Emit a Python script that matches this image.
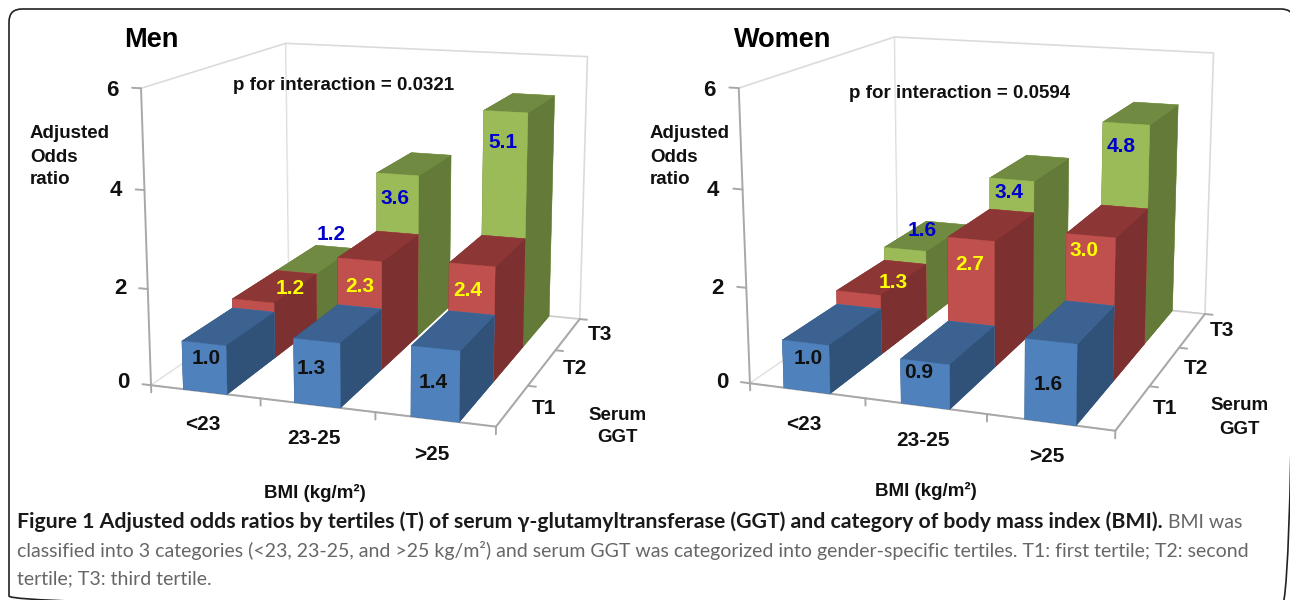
import numpy as np, pandas as pd, seaborn as sns, matplotlib
matplotlib.use("Agg")
import matplotlib.pyplot as plt
from matplotlib.patches import FancyBboxPatch
from matplotlib.transforms import Affine2D

FIG_W, FIG_H = 1290, 600
sns.set_theme(style="white")
plt.rcParams["font.family"] = ["Liberation Sans", "DejaVu Sans"]

# ---------- data ----------
bmi_labels = ["<23", "23-25", ">25"]
ggt_labels = ["T1", "T2", "T3"]
z_ticks = [0, 2, 4, 6]
men_t1 = [1.0, 1.3, 1.4]
men_t2 = [1.2, 2.3, 2.4]
men_t3 = [1.2, 3.6, 5.1]
women_t1 = [1.0, 0.9, 1.6]
women_t2 = [1.3, 2.7, 3.0]
women_t3 = [1.6, 3.4, 4.8]

# ---------- styles ----------
palette = sns.color_palette(["#4F81BD", "#C0504D", "#9BBB59"])
top_colors = ["#3B6290", "#8C3635", "#718A41"]
side_colors = ["#305279", "#7C3030", "#647A38"]
label_colors = ["#111111", "#FFFF00", "#0000CC"]
LINE = "#A8A8A8"
BAR_W = 0.40

# ---------- layout (pixels) ----------
px = Affine2D().scale(1 / FIG_W, -1 / FIG_H).translate(0, 1)
panels = [
    dict(title="Men", title_xy=(151, 40), series=[men_t1, men_t2, men_t3],
         view=(13.118, -70.901, 0.548, 1.19, 1.218), rect=(97.6, 105.0, 548.2),
         p_text="p for interaction = 0.0321", p_xy=(344, 86),
         ylab_x=30, serum_xy=(618, 415), bmi_xy=(315, 493),
         x_xy=[(203, 424), (314, 439), (432, 454)],
         y_xy=[(544, 408), (575, 369), (600, 334)],
         z_xy=[(123, 383), (120, 288), (116, 191), (112, 91)],
         value_xy=[[(206, 359), (311, 368), (433, 383)],
                   [(290, 289), (360, 286), (468, 290)],
                   [(331, 234), (395, 199), (503, 143)]]),
    dict(title="Women", title_xy=(783, 40), series=[women_t1, women_t2, women_t3],
         view=(13.914, -70.262, 0.529, 1.267, 1.271), rect=(699.8, 97.0, 569.0),
         p_text="p for interaction = 0.0594", p_xy=(960, 94),
         ylab_x=650, serum_xy=(1240, 406), bmi_xy=(926, 491),
         x_xy=[(804, 424), (923, 441), (1047, 457)],
         y_xy=[(1165, 409), (1196, 368), (1222, 331)],
         z_xy=[(722, 383), (717, 288), (713, 190), (709, 90)],
         value_xy=[[(808, 359), (919, 372), (1048, 385)],
                   [(893, 282), (970, 264), (1084, 251)],
                   [(922, 231), (1009, 193), (1121, 147)]]),
]

fig = plt.figure(figsize=(FIG_W / 100, FIG_H / 100), dpi=100, facecolor="white")
to_fig = px + fig.transFigure


def ftext(x, y, s, **kw):
    kw.setdefault("ha", "center")
    kw.setdefault("va", "center")
    return fig.text(x, y, s, transform=to_fig, **kw)


fig.add_artist(FancyBboxPatch((9, 9), 1285, 600, boxstyle="round,pad=0,rounding_size=13",
                              transform=to_fig, facecolor="none", edgecolor="#222222",
                              linewidth=1.2, zorder=-5))

for panel in panels:
    l, b, w = panel["rect"]
    ax = fig.add_axes([l / FIG_W, b / FIG_H, w / FIG_W, w / FIG_H],
                      projection="3d", computed_zorder=False)
    ax.patch.set_alpha(0)
    el, az, f, bx, by = panel["view"]
    ax.view_init(elev=el, azim=az)
    ax.set_proj_type("persp", focal_length=f)
    ax.set_box_aspect((bx, by, 1))
    ax.set_xlim(0, 3, view_margin=0)
    ax.set_ylim(0, 3, view_margin=0)
    ax.set_zlim(0, 6, view_margin=0)
    ax.grid(False)
    for axis in (ax.xaxis, ax.yaxis, ax.zaxis):
        axis.pane.set_facecolor("white")
        axis.pane.set_edgecolor("#B8B8B8")
        axis.pane.set_linewidth(1.2)
        axis.line.set_color(LINE)
        axis.line.set_linewidth(1.4)
        axis._axinfo["tick"]["inward_factor"] = 0
        axis._axinfo["tick"]["outward_factor"] = 0
    ax.set_xticks([0.5, 1.5, 2.5], ["", "", ""])
    ax.set_yticks([0.5, 1.5, 2.5], ["", "", ""])
    ax.set_zticks(z_ticks, [""] * len(z_ticks))
    ax.zaxis.set_ticks_position("lower")

    # boundary tick marks, as in the source chart
    for xt in (0, 1, 2, 3):
        ax.plot([xt, xt], [0, 0], [0, -0.15], color=LINE, lw=1.4)
    for yt in (1, 2, 3):
        ax.plot([3, 3.07], [yt, yt], [0, 0], color=LINE, lw=1.4)
    for zt in z_ticks:
        ax.plot([0, -0.08], [0, 0], [zt, zt], color=LINE, lw=1.4)

    # back rows first, left bars first: painter's order for this camera
    for row in (2, 1, 0):
        for col, val in enumerate(panel["series"][row]):
            face = matplotlib.colors.to_hex(palette[row])
            colours = [top_colors[row], top_colors[row], face, face,
                       side_colors[row], side_colors[row]]
            ax.bar3d(col + 0.5 - BAR_W / 2, row, 0, BAR_W, 1, val, color=colours,
                     shade=False, edgecolor=colours, linewidth=0.3)

    for s, (tx, ty) in zip(bmi_labels, panel["x_xy"]):
        ftext(tx, ty, s, fontsize=15, fontweight="bold", color="#111111")
    for s, (tx, ty) in zip(ggt_labels, panel["y_xy"]):
        ftext(tx, ty, s, fontsize=15, fontweight="bold", color="#111111")
    for t, (tx, ty) in zip(z_ticks, panel["z_xy"]):
        ftext(tx, ty, str(t), fontsize=16, fontweight="bold", color="#111111")

    ftext(*panel["title_xy"], panel["title"], fontsize=19.5, fontweight="bold", color="black")
    ftext(*panel["p_xy"], panel["p_text"], fontsize=13.5, fontweight="bold", color="#111111")
    for dy, word in zip((134, 157, 180), ("Adjusted", "Odds", "ratio")):
        ftext(panel["ylab_x"], dy, word, ha="left", fontsize=13.5, fontweight="bold", color="#111111")
    sx, sy = panel["serum_xy"]
    ftext(sx, sy, "Serum", fontsize=13.5, fontweight="bold", color="#111111")
    ftext(sx, sy + 23, "GGT", fontsize=13.5, fontweight="bold", color="#111111")
    ftext(*panel["bmi_xy"], "BMI (kg/m²)", fontsize=13.5, fontweight="bold", color="#111111")
    for row, (vals, places) in enumerate(zip(panel["series"], panel["value_xy"])):
        for val, (tx, ty) in zip(vals, places):
            ftext(tx, ty, f"{val:.1f}", fontsize=15, fontweight="bold", color=label_colors[row])

# ---------- caption ----------
fig.canvas.draw()
rend = fig.canvas.get_renderer()
cap_bold = ftext(17, 522, "Figure 1 Adjusted odds ratios by tertiles (T) of serum γ-glutamyltransferase (GGT) "
                 "and category of body mass index (BMI).", ha="left", family=["Lato", "DejaVu Sans"],
                 fontweight="bold", fontsize=15.3, color="#1A1A1A")
end_x = cap_bold.get_window_extent(rend).x1
ftext(end_x + 5, 522, "BMI was", ha="left", family=["Lato", "DejaVu Sans"], fontsize=14, color="#666666")
ftext(17, 551, "classified into 3 categories (<23, 23-25, and >25 kg/m²) and serum GGT was categorized into "
      "gender-specific tertiles. T1: first tertile; T2: second", ha="left", family=["Lato", "DejaVu Sans"],
      fontsize=14, color="#666666")
ftext(17, 579, "tertile; T3: third tertile.", ha="left", family=["Lato", "DejaVu Sans"],
      fontsize=14, color="#666666")

fig.savefig("out.png", dpi=100)
